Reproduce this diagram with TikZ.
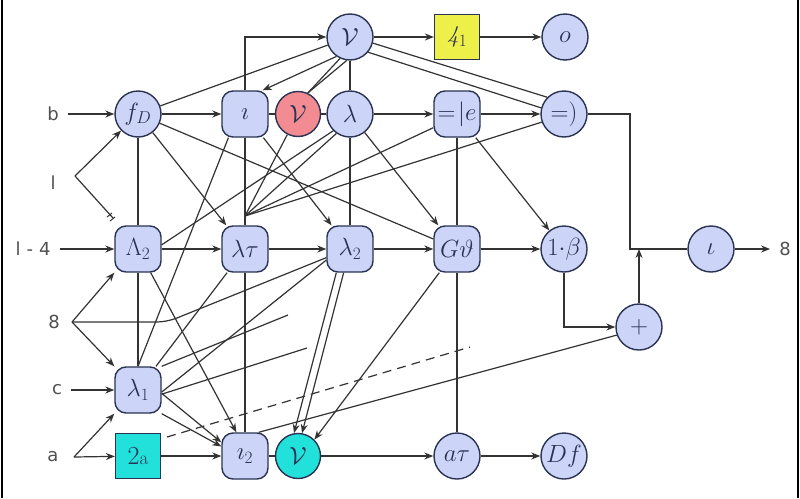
\documentclass[tikz,border=0pt]{standalone}
\usepackage{fontspec}
\newfontfamily\labfont{DejaVu Sans}
\usetikzlibrary{arrows.meta,calc}
\definecolor{nodeblue}{HTML}{CCD4F7}
\definecolor{nodeedge}{HTML}{2B3352}
\definecolor{nodered}{HTML}{F28B92}
\definecolor{nodeyel}{HTML}{EEF04A}
\definecolor{nodecyan}{HTML}{22E0DA}
\definecolor{linec}{HTML}{333333}
\definecolor{labc}{HTML}{505050}
\tikzset{
  base/.style={draw=nodeedge, line width=1.4pt, inner sep=0pt, font=\fontsize{24}{26}\selectfont, text=nodeedge},
  circ/.style={base, circle, minimum size=46pt, fill=nodeblue},
  rbox/.style={base, rectangle, rounded corners=11pt, minimum size=46pt, fill=nodeblue},
  sbox/.style={base, rectangle, minimum size=45pt, line width=1.2pt},
  inlab/.style={font=\labfont\fontsize{18}{20}\selectfont, text=labc, inner sep=1pt},
  conn/.style={draw=linec, line width=1.2pt},
  arr/.style={conn, -{Stealth[length=9pt,width=7pt]}},
}
\begin{document}
\begin{tikzpicture}[x=1pt,y=-1pt]
\useasboundingbox (0,0) rectangle (800,498);
\fill[white] (0,0) rectangle (800,498);
\draw[line width=1.5pt, black] (2,0) -- (2,498);
\draw[line width=1.5pt, black] (798,0) -- (798,498);

% nodes
\node[circ] (nuT) at (350,37) {$\mathcal{V}$};
\node[sbox, fill=nodeyel] (yel) at (457,37) {$\mathit{4}_1$};
\node[circ] (o) at (565,37) {$o$};
\node[circ] (fd) at (138,114) {$f_D$};
\node[rbox] (i) at (245,114) {$\imath$};
\node[circ, fill=nodered, minimum size=45pt] (nuR) at (298,114) {$\mathcal{V}$};
\node[circ] (lam) at (350,114) {$\lambda$};
\node[rbox] (eqe) at (457,114) {$=\!|e$};
\node[circ] (eqp) at (564,114) {$=)$};
\node[rbox] (L2) at (138,249) {$\Lambda_2$};
\node[rbox] (lT) at (245,249) {$\lambda\tau$};
\node[rbox] (l2) at (350,249) {$\lambda_2$};
\node[rbox] (G) at (457,249) {$G\vartheta$};
\node[circ] (oneb) at (564,249) {$1{\cdot}\beta$};
\node[circ] (iota) at (711,249) {$\iota$};
\node[circ] (plus) at (639,327) {$+$};
\node[rbox] (l1) at (138,390) {$\lambda_1$};
\node[sbox, fill=nodecyan] (twoa) at (138,456) {\fontsize{26}{28}\selectfont 2{\fontsize{19}{20}\selectfont a}};
\node[rbox] (ltwo) at (245,456) {$\imath_2$};
\node[circ, fill=nodecyan, minimum size=45pt] (nuC) at (298,456) {$\mathcal{V}$};
\node[circ] (ar) at (457,456) {$a\tau$};
\node[circ] (Df) at (564,456) {$Df$};

% input / output labels
\node[inlab] (inb) at (53,114) {b};
\node[inlab] (inl) at (53,183) {l};
\node[inlab] (inl4) at (33,249) {l\,\,-\,\,4};
\node[inlab] (in8) at (54,322) {8};
\node[inlab] (inc) at (57,390) {c};
\node[inlab] (ina) at (53,457) {a};
\node[inlab] (out8) at (785,249) {8};

% helper coordinates
\coordinate (lsplit) at (75,176);
\coordinate (ltick) at (113,218);
\coordinate (s8) at (72,322);
\coordinate (sa) at (74,457);
\coordinate (jT) at (245,216);
\coordinate (jn) at (630,249);
\coordinate (f1) at (288,315);
\coordinate (f2) at (307,348);
\coordinate (d1) at (167,437);
\coordinate (d2) at (470,347);

% top rows
\draw[arr, shorten <=8pt] (inb) -- (fd);
\draw[arr] (fd) -- (i);
\draw[arr] (i.north) |- (nuT);
\draw[arr] (nuT) -- (yel);
\draw[arr] (yel) -- (o);
\draw[arr] (nuT.235) -- ([xshift=-6pt]i.north east);
\draw[conn] (fd) -- (nuT);
\draw[conn] (nuT.-15) -- (eqp.north west);
\draw[conn] (nuT.-40) -- (eqp.165);
\draw[conn] (nuT) -- (lam);
\draw[conn] (nuT.245) -- (nuR.65);
\draw[conn] (nuT.262) -- (nuR.65);
\draw[conn] (i) -- (nuR);
\draw[conn] (nuR) -- (lam);
\draw[arr] (lam) -- (eqe);
\draw[arr] (eqe) -- (eqp);
\draw[conn] (eqp.east) -| (jn) -- (iota);
\draw[arr] (plus.north) -- (plus |- iota);
\draw[arr, shorten >=8pt] (iota) -- (out8);
\draw[arr] (oneb.south) |- (plus.west);

% verticals
\draw[conn] (eqe) -- (G);
\draw[conn] (G) -- (ar);
\draw[conn] (lam) -- (l2);
\draw[conn] (fd) -- (L2);
\draw[conn] (L2) -- (l1);
\draw[conn] (i) -- (lT);
\draw[conn] (lT) -- (ltwo);

% diagonals
\draw[arr] (G) -- (oneb);
\draw[arr] (eqe) -- (oneb);
\draw[arr] (lam) -- (G);
\draw[arr] (i) -- (l2);
\draw[conn] (fd) -- (G);
\draw[arr] (fd) -- (lT);
\draw[arr] (lsplit) -- (fd);
\draw[conn] (lsplit) -- (ltick);
\draw[conn, line width=1pt] ($(ltick)+(-6,-1)$) -- ++(5,-4);
\draw[conn, line width=1pt] ($(ltick)+(-3,3)$) -- ++(5,-4);
\draw[arr, shorten <=8pt] (inl4) -- (L2);
\draw[arr] (L2) -- (lT);
\draw[arr] (lT) -- (l2);
\draw[arr] (l2) -- (G);
\draw[conn] (L2.10) -- (lam.225);
\draw[conn] (jT) -- (nuR);
\draw[conn] (jT) -- (lam.235);
\draw[conn] (jT) -- (eqe.210);
\draw[conn] (jT) -- (eqp.200);
\draw[conn] (i.235) -- (l1.north);
\draw[conn] (l1) -- (lT);
\draw[conn] (l1.-5) -- (l2.205);
\draw[conn] (l1.north east) -- (f1);
\draw[conn] (l1.-10) -- (f2);
\draw[arr] (l1.-8) -- (ltwo.150);
\draw[arr] (l1.south east) -- (ltwo.158);
\draw[arr] (L2) -- (ltwo.110);
\draw[arr, shorten <=8pt] (inc) -- (l1);
\draw[arr] (sa) -- (twoa);
\draw[arr] (sa) -- (l1.south west);
\draw[arr] (twoa) -- (ltwo);
\draw[conn] (ltwo) -- (nuC);
\draw[arr] (nuC) -- (ar);
\draw[arr] (ar) -- (Df);
\draw[arr] (l2.-120) -- (nuC.100);
\draw[arr] (l2.-105) -- (nuC.80);
\draw[arr] (G) -- (nuC.45);
\draw[conn] (plus.200) -- (ltwo.60);
\draw[conn, dashed, dash pattern=on 9pt off 6pt] (d1) -- (d2);
\draw[arr] (s8) -- (L2.225);
\draw[arr] (s8) -- (l1.north west);
\draw[conn, rounded corners=10pt] (s8) -- (167,322) -- (l2.200);
\end{tikzpicture}
\end{document}
